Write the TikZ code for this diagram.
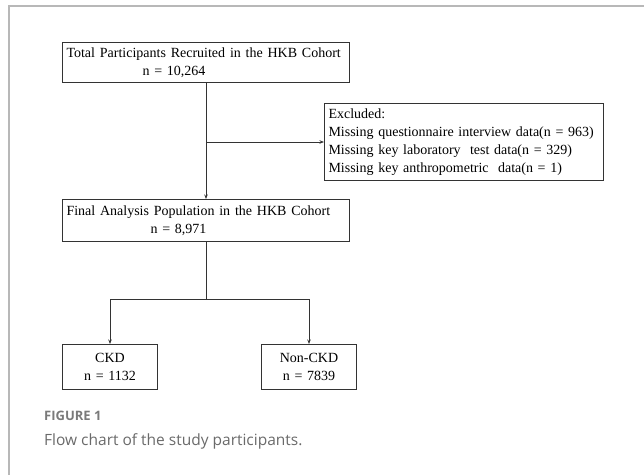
\documentclass[tikz,border=0pt]{standalone}
\usepackage{fontspec}
\setmainfont{Liberation Serif}
\newfontfamily\capfont{Open Sans}
\usetikzlibrary{arrows.meta}
\definecolor{framegray}{HTML}{B8B8B8}
\definecolor{capgray}{HTML}{7A7A7A}
\definecolor{capgray2}{HTML}{6A6A6A}
\definecolor{linegray}{HTML}{333333}
\newcommand\mywidesp{\spaceskip=4.8pt plus 1pt\relax}
\tikzset{
  box/.style={draw=linegray, line width=1pt, anchor=north west, inner xsep=4pt, inner ysep=0pt,
    font=\fontsize{14}{18}\selectfont, align=left},
  smallbox/.style={draw=linegray, line width=1pt, anchor=north west, inner xsep=2pt, inner ysep=0pt,
    font=\fontsize{14}{18}\selectfont, align=center},
  conn/.style={draw=linegray, line width=1pt},
  arr/.style={conn, -{Stealth[length=4.5pt,width=3.5pt]}},
}
\begin{document}
\begin{tikzpicture}[x=1pt,y=-1pt]
\useasboundingbox (0,0) rectangle (644,475);
\draw[framegray, line width=1.5pt] (644,6) -- (9,6) -- (9,475);

\node[box, minimum width=287pt, minimum height=40pt, text width=279pt] (b1) at (62,42)
  {\mywidesp Total Participants Recruited in the HKB Cohort\\\hspace*{76pt}n = 10,264};
\node[box, minimum width=279pt, minimum height=77pt, text width=271pt] (exc) at (324,103)
  {Excluded:\\Missing questionnaire interview data(n = 963)\\Missing key laboratory\ \ test data(n = 329)\\Missing key anthropometric\ \ data(n = 1)};
\node[box, minimum width=287pt, minimum height=42pt, text width=279pt] (fin) at (62,199)
  {\mywidesp Final Analysis Population in the HKB Cohort\\\hspace*{84pt}n = 8,971};
\node[smallbox, minimum width=95pt, minimum height=45pt, text width=91pt] (ckd) at (62,344)
  {CKD\\n = 1132};
\node[smallbox, minimum width=95pt, minimum height=45pt, text width=91pt] (non) at (261,344)
  {Non-CKD\\n = 7839};

\draw[arr] (b1.south) -- (fin.north);
\draw[arr] (b1.south |- exc.west) -- (exc.west);
\coordinate (split) at (206,299);
\draw[conn] (fin.south) -- (split);
\draw[arr] (split) -| (ckd.north);
\draw[arr] (split) -| (non.north);

\node[anchor=west, inner sep=0pt, text=capgray, font=\capfont\bfseries\fontsize{13}{16}\selectfont] (figlab) at (44,416) {FIGURE 1};
\node[anchor=west, inner sep=0pt, text=capgray2, font=\capfont\fontsize{15.5}{19}\selectfont] (cap) at (44,441) {Flow chart of the study participants.};
\end{tikzpicture}
\end{document}
